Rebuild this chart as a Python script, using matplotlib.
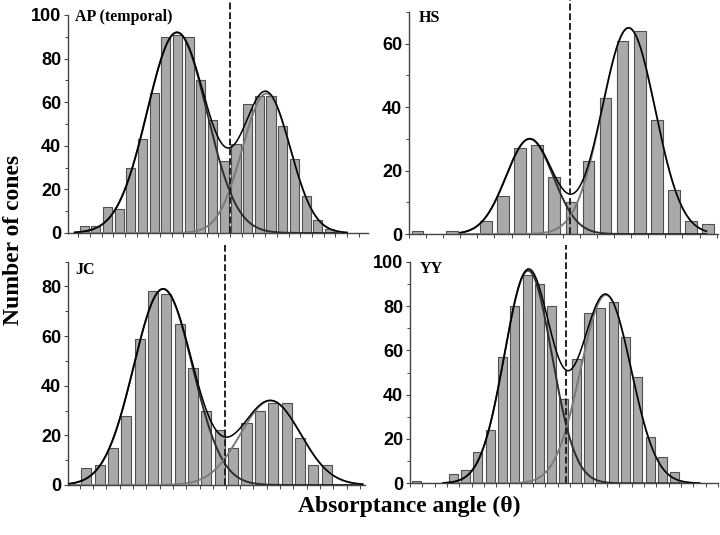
#Absorptance angle histograms, four subjects
#bars + two gaussian fits + their sum

import numpy as np
import matplotlib
matplotlib.use('Agg')
import matplotlib.pyplot as plt
import matplotlib.transforms as mtransforms

# counts per bin
ap_counts = [3, 3, 12, 11, 30, 43, 64, 90, 91, 90, 70, 52, 33, 41, 59, 63, 63, 49, 34, 17, 6, 2]
hs_counts = [1, 0, 1, 0, 4, 12, 27, 28, 18, 10, 23, 43, 61, 64, 36, 14, 4, 3]
jc_counts = [7, 8, 15, 28, 59, 78, 77, 65, 47, 30, 22, 15, 25, 30, 33, 33, 19, 8, 8]
yy_counts = [1, 0, 0, 4, 6, 14, 24, 57, 80, 94, 90, 80, 38, 56, 77, 79, 82, 66, 48, 21, 12, 5]

# gaussian fits: (amplitude, centre, sigma) in bin units
ap_fit = [(92, 8.45, 2.55), (64, 16.1, 2.05)]
hs_fit = [(30, 7.06, 1.38), (65, 12.85, 1.55)]
jc_fit = [(79, 6.25, 2.2), (34, 14.3, 2.25)]
yy_fit = [(96, 9.59, 1.92), (85, 15.9, 2.05)]

# criterion (dashed line) positions
ap_cut = 12.95
hs_cut = 9.43
jc_cut = 10.9
yy_cut = 12.65

names = ['AP (temporal)', 'HS', 'JC', 'YY']

plt.rcParams['font.family'] = ['Liberation Sans', 'DejaVu Sans']

fig = plt.figure(figsize=(7.2, 5.35), dpi=100)


def gauss(x, a, m, s):
    return a * np.exp(-(x - m) ** 2 / (2 * s ** 2))


def panel(rect, counts, fit, cut, name, xlim, ylim, ymaj, bw, crange, lab_xy):
    ax = fig.add_axes(rect)
    pos = np.arange(len(counts)) + 0.5
    ax.bar(pos, counts, width=bw, color='#a9a9a9', edgecolor='#505050', linewidth=0.8, zorder=2)

    x = np.linspace(crange[0], crange[1], 400)
    g1 = gauss(x, *fit[0])
    g2 = gauss(x, *fit[1])
    ax.plot(x, g1, color='#2e2e2e', lw=1.4, zorder=3)
    ax.plot(x, g2, color='#7a7a7a', lw=1.4, zorder=3)
    ax.plot(x, g1 + g2, color='black', lw=1.1, zorder=4)

    trans = mtransforms.blended_transform_factory(ax.transData, ax.transAxes)
    ax.plot([cut, cut], [0, 1.075], transform=trans, color='#222222', lw=1.4,
            linestyle=(0, (3.5, 1.5)), clip_on=False, zorder=5)

    ax.set_xlim(*xlim)
    ax.set_ylim(0, ylim)
    ax.set_xticks(np.arange(np.ceil(xlim[0]), xlim[1] + 0.01, 1))
    ax.set_xticklabels([])
    ax.tick_params(axis='x', direction='out', length=3, width=0.7, color='#444444')
    ax.set_yticks(np.arange(0, ylim + 0.1, ymaj))
    ax.set_yticks(np.arange(ymaj / 2, ylim + 0.1, ymaj), minor=True)
    ax.tick_params(axis='y', which='major', direction='out', length=3, width=0.8,
                   color='#444444', pad=2, labelsize=13)
    ax.tick_params(axis='y', which='minor', direction='out', length=2, width=0.7, color='#444444')
    for t in ax.get_yticklabels():
        t.set_fontweight('bold')
    for sp in ['top', 'right']:
        ax.spines[sp].set_visible(False)
    for sp in ['left', 'bottom']:
        ax.spines[sp].set_color('#444444')
        ax.spines[sp].set_linewidth(1.0)
    ax.text(lab_xy[0], lab_xy[1], name, transform=ax.transAxes, ha='left', va='center',
            fontsize=11.5, fontweight='bold', family=['Liberation Serif', 'DejaVu Serif'])
    return ax


panel([0.0944, 0.5645, 0.4167, 0.4075], ap_counts, ap_fit, ap_cut, names[0],
      (-0.88, 24.8), 100, 20, 0.78, (-0.3, 23.0), (0.023, 0.99))
panel([0.568, 0.5626, 0.429, 0.415], hs_counts, hs_fit, hs_cut, names[1],
      (0, 18.07), 70, 20, 0.68, (3.0, 17.4), (0.03, 0.975))
panel([0.0944, 0.0935, 0.4125, 0.4174], jc_counts, jc_fit, jc_cut, names[2],
      (-0.875, 21.375), 90, 20, 0.75, (-0.875, 21.2), (0.024, 0.963))
panel([0.5694, 0.0966, 0.4278, 0.4142], yy_counts, yy_fit, yy_cut, names[3],
      (0, 25), 100, 20, 0.73, (2.7, 23.5), (0.032, 0.967))

fig.text(0.019, 0.551, 'Number of cones', rotation=90, ha='center', va='center',
         fontsize=17, fontweight='bold', family=['Liberation Serif', 'DejaVu Serif'])
fig.text(0.568, 0.054, 'Absorptance angle (θ)', ha='center', va='center',
         fontsize=17, fontweight='bold', family=['Liberation Serif', 'DejaVu Serif'])

fig.savefig('out.png', dpi=100)
